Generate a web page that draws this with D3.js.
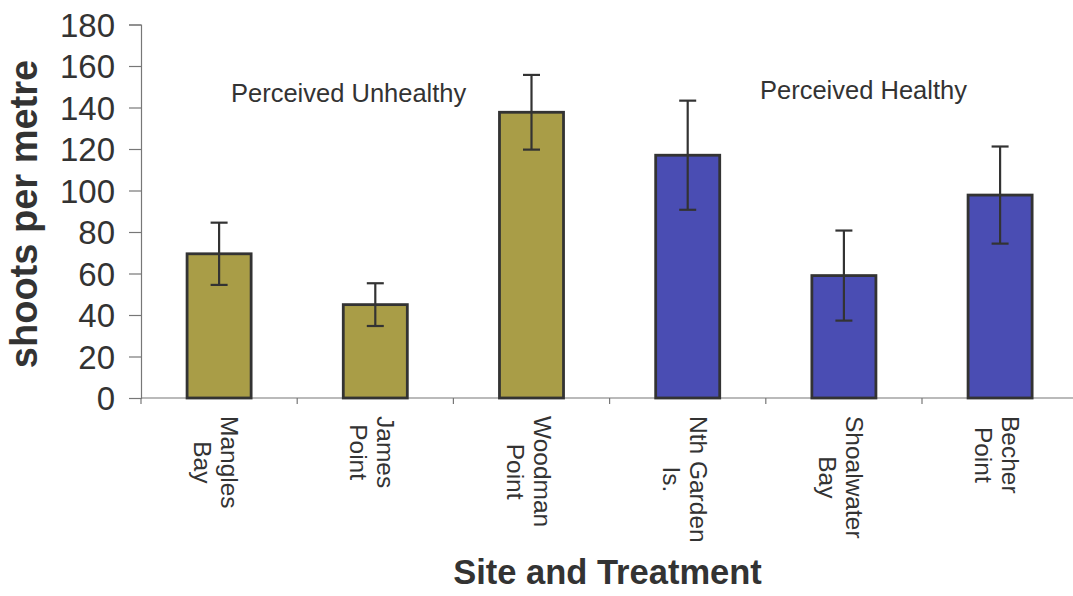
<!DOCTYPE html>
<html>
<head>
<meta charset="utf-8">
<script src="https://cdn.jsdelivr.net/npm/d3@7"></script>
<style>
  html, body { margin: 0; padding: 0; background: #ffffff; }
  svg { display: block; }
  text { font-family: "Liberation Sans", Arial, sans-serif; fill: #333333; }
</style>
</head>
<body>
<svg id="chart" width="1073" height="596"></svg>
<script>
// Seagrass shoot density by site (mean ± error)
const sites = [
  ["Mangles", "Bay"],
  ["James", "Point"],
  ["Woodman", "Point"],
  ["Nth Garden", "Is."],
  ["Shoalwater", "Bay"],
  ["Becher", "Point"]
];
const siteKeys = sites.map(s => s.join(" "));
const shootsMean = [69.5, 45, 137.7, 117, 59, 97.8];
const shootsErr  = [15, 10.3, 18, 26.3, 21.7, 23.4];
const treatment  = ["Unhealthy", "Unhealthy", "Unhealthy", "Healthy", "Healthy", "Healthy"];
const yTicks = [0, 20, 40, 60, 80, 100, 120, 140, 160, 180];
const groupLabels = ["Perceived Unhealthy", "Perceived Healthy"];

const colours = { Unhealthy: "#a99d47", Healthy: "#4a4db3" };

const svg = d3.select("#chart");

const x0 = 141, yBase = 398, yTop = 24.5, step = 156.2;
const x = d3.scaleBand()
  .domain(siteKeys)
  .range([x0, x0 + step * siteKeys.length])
  .paddingInner(0.59)
  .paddingOuter(0.295);

const y = d3.scaleLinear().domain([0, 180]).range([yBase, yTop]);

// y axis
const yAxis = svg.append("g")
  .attr("transform", `translate(${x0},0)`)
  .call(d3.axisLeft(y).tickValues(yTicks).tickSize(12).tickPadding(14));
yAxis.select(".domain").attr("stroke", "#777").attr("stroke-width", 1.2);
yAxis.selectAll(".tick line").attr("stroke", "#777").attr("stroke-width", 1.2);
yAxis.selectAll(".tick text")
  .attr("font-size", 33)
  .attr("font-family", "Liberation Sans, Arial, sans-serif")
  .attr("fill", "#333")
  .attr("dy", "0.35em");

// x axis line with ticks at category boundaries
const boundaries = siteKeys.map(k => x(k) + x.bandwidth() / 2 - x.step() / 2);
boundaries.push(x.range()[1]);
svg.append("line")
  .attr("x1", x0).attr("x2", x.range()[1] + 10)
  .attr("y1", yBase).attr("y2", yBase)
  .attr("stroke", "#777").attr("stroke-width", 1.2);
svg.selectAll("line.xtick").data(boundaries).join("line")
  .attr("class", "xtick")
  .attr("x1", d => d).attr("x2", d => d)
  .attr("y1", yBase).attr("y2", yBase + 6)
  .attr("stroke", "#777").attr("stroke-width", 1.2);

// bars
svg.selectAll("rect.bar").data(siteKeys).join("rect")
  .attr("class", "bar")
  .attr("x", d => x(d))
  .attr("width", x.bandwidth())
  .attr("y", (d, i) => y(shootsMean[i]))
  .attr("height", (d, i) => yBase - y(shootsMean[i]))
  .attr("fill", (d, i) => colours[treatment[i]])
  .attr("stroke", "#333")
  .attr("stroke-width", 2.8);

// error bars
const cap = 8.5;
const err = svg.append("g").attr("stroke", "#333").attr("stroke-width", 2.2);
siteKeys.forEach((k, i) => {
  const cx = x(k) + x.bandwidth() / 2;
  const hi = y(shootsMean[i] + shootsErr[i]);
  const lo = y(shootsMean[i] - shootsErr[i]);
  err.append("line").attr("x1", cx).attr("x2", cx).attr("y1", hi).attr("y2", lo);
  err.append("line").attr("x1", cx - cap).attr("x2", cx + cap).attr("y1", hi).attr("y2", hi);
  err.append("line").attr("x1", cx - cap).attr("x2", cx + cap).attr("y1", lo).attr("y2", lo);
});

// rotated two-line category labels, top-aligned, lines centred on the longest line
const labelTop = 416, lineGap = 27;
siteKeys.forEach((k, i) => {
  const cx = x(k) + x.bandwidth() / 2;
  const g = svg.append("g");
  const texts = sites[i].map((line, j) =>
    g.append("text")
      .attr("font-size", 24.5)
      .attr("text-anchor", "middle")
      .text(line));
  const maxLen = d3.max(texts, t => t.node().getComputedTextLength());
  const cy = labelTop + maxLen / 2;
  texts.forEach((t, j) => {
    t.attr("transform", `translate(${cx + 2 - j * lineGap},${cy}) rotate(90)`);
  });
});

// group annotations
svg.append("text")
  .attr("x", 231).attr("y", 101.5)
  .attr("font-size", 25.5)
  .text(groupLabels[0]);
svg.append("text")
  .attr("x", 760).attr("y", 98.5)
  .attr("font-size", 25.5)
  .text(groupLabels[1]);

// axis titles
svg.append("text")
  .attr("transform", `translate(37,214) rotate(-90)`)
  .attr("text-anchor", "middle")
  .attr("font-size", 38)
  .attr("font-weight", "bold")
  .text("shoots per metre");

svg.append("text")
  .attr("x", 607.5).attr("y", 584)
  .attr("text-anchor", "middle")
  .attr("font-size", 34.5)
  .attr("font-weight", "bold")
  .text("Site and Treatment");
</script>
</body>
</html>
